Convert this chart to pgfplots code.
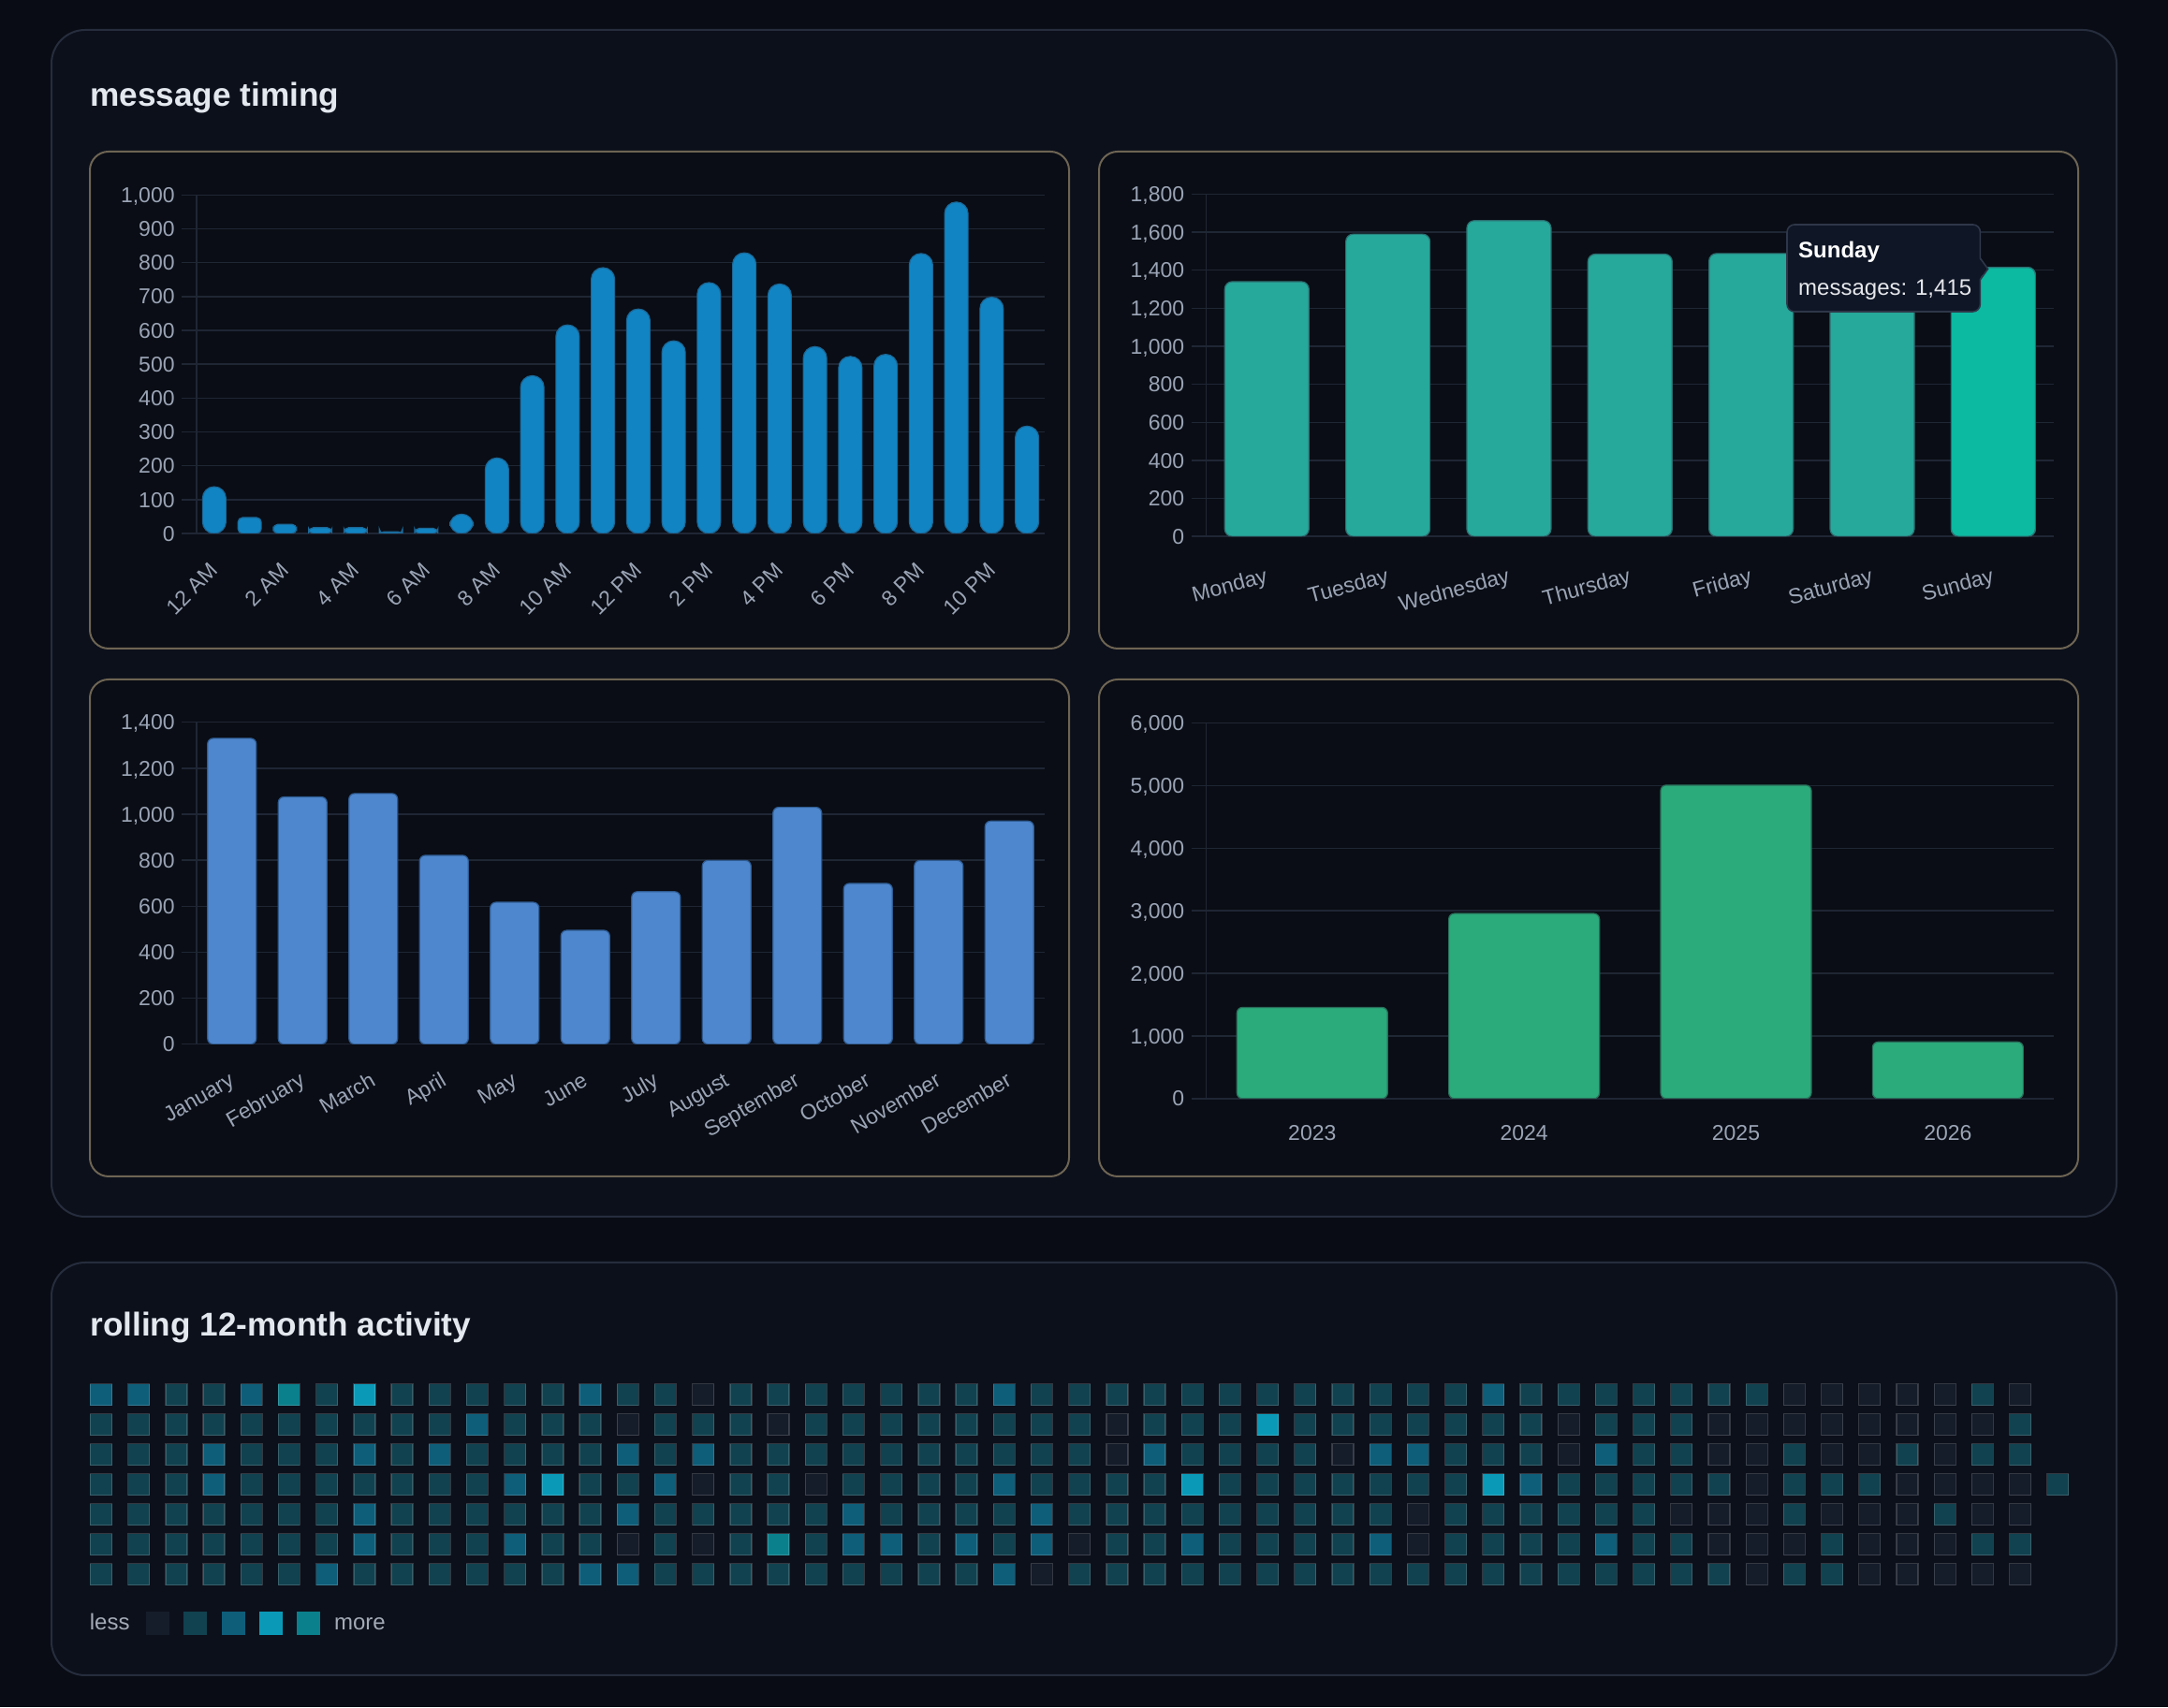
\documentclass[border=0pt]{standalone}
\usepackage{fontspec}
\setmainfont{Liberation Sans}
\usepackage{pgfplots}
\usepackage{pgfplotstable}
\pgfplotsset{compat=1.18}

% dashboard palette
\definecolor{pagebg}{HTML}{090C14}
\definecolor{panelbg}{HTML}{0C101B}
\definecolor{panelbd}{HTML}{262D3D}
\definecolor{cardbg}{HTML}{0A0D15}
\definecolor{cardbd}{HTML}{6D6453}
\definecolor{gridc}{HTML}{1F2634}
\definecolor{tickc}{HTML}{9AA4B5}
\definecolor{titlec}{HTML}{E3E7EE}
\definecolor{hourc}{HTML}{1185C4}
\definecolor{hourb}{HTML}{1C6796}
\definecolor{dayc}{HTML}{26A89A}
\definecolor{dayb}{HTML}{2C6E70}
\definecolor{sunc}{HTML}{0CB9A1}
\definecolor{monc}{HTML}{4F87CE}
\definecolor{monb}{HTML}{2F5C92}
\definecolor{yearc}{HTML}{2BAA7B}
\definecolor{yearb}{HTML}{2A6E5A}
\definecolor{tipbg}{HTML}{0F1626}
\definecolor{tipbd}{HTML}{2E3749}
\definecolor{tipc}{HTML}{E5E7EB}
\definecolor{legc}{HTML}{A4ABB6}
\definecolor{lvA}{HTML}{151C2A}
\definecolor{lvB}{HTML}{11424F}
\definecolor{lvC}{HTML}{0E5E7A}
\definecolor{lvD}{HTML}{0A9AB8}
\definecolor{lvE}{HTML}{0A808C}

\newcommand\tkfont{\fontsize{11.5pt}{13pt}\selectfont}
\newcommand\ttlfont{\fontsize{17.6pt}{21pt}\selectfont\bfseries}
\newcommand\tipfont{\fontsize{12pt}{14pt}\selectfont}

% rounded square used for the activity cells
\pgfdeclareplotmark{cell}{%
  {\pgfsetcornersarced{\pgfpoint{3pt}{3pt}}%
   \pgfpathrectangle{\pgfpoint{-\pgfplotmarksize}{-\pgfplotmarksize}}%
     {\pgfpoint{2\pgfplotmarksize}{2\pgfplotmarksize}}%
   \pgfusepathqfillstroke}}

% messages per hour of day
\pgfplotstableread{
h v
0 138
1 47
2 27
3 17
4 17
5 5
6 15
7 57
8 223
9 466
10 616
11 785
12 663
13 569
14 741
15 829
16 737
17 552
18 523
19 529
20 827
21 979
22 698
23 317
}\hourdata

% messages per weekday
\pgfplotstableread{
d v
0 1340
1 1590
2 1661
3 1485
4 1488
5 1390
6 1415
}\daydata

% messages per month
\pgfplotstableread{
m v
0 1330
1 1075
2 1090
3 821
4 617
5 495
6 663
7 799
8 1030
9 699
10 799
11 970
}\mondata

% messages per year
\pgfplotstableread{
y v
0 1456
1 2956
2 5007
3 904
}\yeardata

% activity level per week (w) and weekday row (d0..d6)
\pgfplotstableread{
w d0 d1 d2 d3 d4 d5 d6
0 2 1 1 1 1 1 1
1 2 1 1 1 1 1 1
2 1 1 1 1 1 1 1
3 1 1 2 2 1 1 1
4 2 1 1 1 1 1 1
5 4 1 1 1 1 1 1
6 1 1 1 1 1 1 2
7 3 1 2 1 2 2 1
8 1 1 1 1 1 1 1
9 1 1 2 1 1 1 1
10 1 2 1 1 1 1 1
11 1 1 1 2 1 2 1
12 1 1 1 3 1 1 1
13 2 1 1 1 1 1 2
14 1 0 2 1 2 0 2
15 1 1 1 2 1 1 1
16 0 1 2 0 1 0 1
17 1 1 1 1 1 1 1
18 1 0 1 1 1 4 1
19 1 1 1 0 1 1 1
20 1 1 1 1 2 2 1
21 1 1 1 1 1 2 1
22 1 1 1 1 1 1 1
23 1 1 1 1 1 2 1
24 2 1 1 2 1 1 2
25 1 1 1 1 2 2 0
26 1 1 1 1 1 0 1
27 1 0 0 1 1 1 1
28 1 1 2 1 1 1 1
29 1 1 1 3 1 2 1
30 1 1 1 1 1 1 1
31 1 3 1 1 1 1 1
32 1 1 1 1 1 1 1
33 1 1 0 1 1 1 1
34 1 1 2 1 1 2 1
35 1 1 2 1 0 0 1
36 1 1 1 1 1 1 1
37 2 1 1 3 1 1 1
38 1 1 1 2 1 1 1
39 1 0 0 1 1 1 1
40 1 1 2 1 1 2 1
41 1 1 1 1 1 1 1
42 1 1 1 1 0 1 1
43 1 0 0 1 0 0 1
44 1 0 0 0 0 0 0
45 0 0 1 1 1 0 1
46 0 0 0 1 0 1 1
47 0 0 0 1 0 0 0
48 0 0 1 0 0 0 0
49 0 0 0 0 1 0 0
50 1 0 1 0 0 1 0
51 0 1 1 0 0 1 0
}\heat

\pgfplotsset{
  dashaxis/.style={
    scale only axis, anchor=south west,
    axis x line*=bottom, axis y line*=left,
    axis line style={-, draw=gridc, line width=0.75pt},
    ymajorgrids, grid style={draw=gridc, line width=0.75pt},
    major tick length=0pt, xtick style={draw=none}, ytick style={draw=none},
    tick label style={font=\tkfont, text=tickc, inner sep=0pt,
      text height=8.2pt, text depth=0pt},
    yticklabel style={anchor=east, xshift=-11.5pt},
    /pgf/number format/assume math mode=true,
    xmin=-0.5, clip mode=individual,
  },
  hourbar/.style={ybar, bar width=12.5pt, bar shift=0pt, fill=hourc,
    draw=hourb, line width=0.6pt},
  heatcells/.style={
    scatter, only marks, scatter src=explicit symbolic,
    mark=cell, mark size=5.75pt,
    scatter/classes={
      0={fill=lvA, draw=white, draw opacity=0.17, line width=0.65pt},
      1={fill=lvB, draw=white, draw opacity=0.17, line width=0.65pt},
      2={fill=lvC, draw=white, draw opacity=0.17, line width=0.65pt},
      3={fill=lvD, draw=white, draw opacity=0.17, line width=0.65pt},
      4={fill=lvE, draw=white, draw opacity=0.17, line width=0.65pt}},
  },
  heatkey/.style={
    scatter, only marks, scatter src=explicit symbolic,
    mark=cell, mark size=6pt,
    scatter/classes={
      0={fill=lvA, draw=lvA, line width=0.1pt},
      1={fill=lvB, draw=lvB, line width=0.1pt},
      2={fill=lvC, draw=lvC, line width=0.1pt},
      3={fill=lvD, draw=lvD, line width=0.1pt},
      4={fill=lvE, draw=lvE, line width=0.1pt}},
  },
}

\begin{document}
\begin{tikzpicture}
\useasboundingbox (0pt,0pt) rectangle (1158pt,912pt);
\fill[pagebg] (0pt,0pt) rectangle (1158pt,912pt);

% panels
\draw[panelbd, fill=panelbg, line width=1pt, rounded corners=18pt]
  (27.5pt,262pt) rectangle (1130.5pt,896pt);
\draw[panelbd, fill=panelbg, line width=1pt, rounded corners=18pt]
  (27.5pt,17pt) rectangle (1130.5pt,237.5pt);

% chart cards
\foreach \cx/\cy in {48/565.5, 587/565.5, 48/283.5, 587/283.5}
  \draw[cardbd, fill=cardbg, line width=1pt, rounded corners=10pt]
    (\cx pt,\cy pt) rectangle ++(523pt,265.5pt);

\node[anchor=base west, inner sep=0pt, text=titlec, font=\ttlfont]
  at (48pt,855pt) {message timing};
\node[anchor=base west, inner sep=0pt, text=titlec, font=\ttlfont]
  at (48pt,198pt) {rolling 12-month activity};

% ---- messages by hour
\begin{axis}[dashaxis, at={(105pt,627pt)}, width=453pt, height=180.85pt,
  xmax=23.5, ymin=0, ymax=1000,
  y coord trafo/.code={\pgfmathparse{#1+80}},
  y coord inv trafo/.code={\pgfmathparse{#1-80}},
  ytick={0,100,...,1000},
  yticklabels={0,100,200,300,400,500,600,700,800,900,{1,000}},
  xtick={0,2,...,22},
  xticklabels={12 AM,2 AM,4 AM,6 AM,8 AM,10 AM,12 PM,2 PM,4 PM,6 PM,8 PM,10 PM},
  xticklabel style={yshift=-17.5pt, rotate=45, anchor=east},
]
\pgfplotsinvokeforeach{0,0.1,0.2,0.3,0.4,0.5,0.6,0.7,0.8,0.9,1}{
  \draw[gridc, line width=0.75pt] (rel axis cs:0,#1) -- ++(-8pt,0pt);}
% full round caps on the taller bars, tighter caps on the short night bars
\addplot[hourbar, rounded corners=6.2pt, restrict x to domain=-0.5:0.5]
  table[x=h, y=v] {\hourdata};
\addplot[hourbar, rounded corners=6.2pt, restrict x to domain=6.5:23.5]
  table[x=h, y=v] {\hourdata};
\addplot[hourbar, rounded corners=2.5pt, restrict x to domain=0.5:6.5]
  table[x=h, y=v] {\hourdata};
\end{axis}

% ---- messages by weekday
\begin{axis}[dashaxis, at={(644.3pt,625.4pt)}, width=452.7pt, height=182.85pt,
  xmax=6.5, ymin=0, ymax=1800,
  y coord trafo/.code={\pgfmathparse{#1+100}},
  y coord inv trafo/.code={\pgfmathparse{#1-100}},
  ytick={0,200,...,1800},
  yticklabels={0,200,400,600,800,{1,000},{1,200},{1,400},{1,600},{1,800}},
  xtick={0,...,6},
  xticklabels={Monday,Tuesday,Wednesday,Thursday,Friday,Saturday,Sunday},
  xticklabel style={yshift=-20.5pt, rotate=15, anchor=east},
]
\pgfplotsinvokeforeach{0,0.11111,0.22222,0.33333,0.44444,0.55556,0.66667,0.77778,0.88889,1}{
  \draw[gridc, line width=0.75pt] (rel axis cs:0,#1) -- ++(-8pt,0pt);}
\addplot[ybar, bar width=45pt, bar shift=0pt, fill=dayc, draw=dayb,
  line width=0.6pt, rounded corners=4pt] table[x=d, y=v] {\daydata};
\addplot[ybar, bar width=45pt, bar shift=0pt, fill=sunc, draw=dayb,
  line width=0.6pt, rounded corners=4pt, restrict x to domain=5.5:6.5]
  table[x=d, y=v] {\daydata};
\end{axis}

% hover box on the Sunday bar
\draw[tipbd, fill=tipbg, line width=0.8pt, rounded corners=4pt]
  (954.5pt,745.5pt) rectangle (1057.7pt,792pt);
\fill[tipbg] (1056.9pt,774pt) -- (1061.8pt,768.3pt) -- (1056.9pt,762.6pt) -- cycle;
\draw[tipbd, line width=0.8pt] (1057.7pt,774pt) -- (1061.8pt,768.3pt) -- (1057.7pt,762.6pt);
\node[anchor=base west, inner sep=0pt, text=white, font=\tipfont\bfseries]
  at (960.4pt,774.3pt) {Sunday};
\node[anchor=base west, inner sep=0pt, text=tipc, font=\tipfont]
  at (960.4pt,754.2pt) {messages: 1,415};

% ---- messages by month
\begin{axis}[dashaxis, at={(105pt,354.15pt)}, width=453pt, height=172pt,
  xmax=11.5, ymin=0, ymax=1400,
  y coord trafo/.code={\pgfmathparse{#1+60}},
  y coord inv trafo/.code={\pgfmathparse{#1-60}},
  ytick={0,200,...,1400},
  yticklabels={0,200,400,600,800,{1,000},{1,200},{1,400}},
  xtick={0,...,11},
  xticklabels={January,February,March,April,May,June,July,August,September,October,November,December},
  xticklabel style={yshift=-18pt, rotate=30, anchor=east},
]
\pgfplotsinvokeforeach{0,0.142857,0.285714,0.428571,0.571429,0.714286,0.857143,1}{
  \draw[gridc, line width=0.75pt] (rel axis cs:0,#1) -- ++(-8pt,0pt);}
\addplot[ybar, bar width=26pt, bar shift=0pt, fill=monc, draw=monb,
  line width=0.6pt, rounded corners=3pt] table[x=m, y=v] {\mondata};
\end{axis}

% ---- messages by year
\begin{axis}[dashaxis, at={(644.3pt,325.1pt)}, width=452.7pt, height=200.65pt,
  xmax=3.5, ymin=0, ymax=6000,
  y coord trafo/.code={\pgfmathparse{#1+200}},
  y coord inv trafo/.code={\pgfmathparse{#1-200}},
  ytick={0,1000,...,6000},
  yticklabels={0,{1,000},{2,000},{3,000},{4,000},{5,000},{6,000}},
  xtick={0,...,3},
  xticklabels={2023,2024,2025,2026},
  xticklabel style={yshift=-18.5pt, anchor=center},
]
\pgfplotsinvokeforeach{0,0.166667,0.333333,0.5,0.666667,0.833333,1}{
  \draw[gridc, line width=0.75pt] (rel axis cs:0,#1) -- ++(-8pt,0pt);}
\addplot[ybar, bar width=80.5pt, bar shift=0pt, fill=yearc, draw=yearb,
  line width=0.6pt, rounded corners=3pt] table[x=y, y=v] {\yeardata};
\end{axis}

% ---- rolling activity grid
\begin{axis}[at={(43.95pt,63pt)}, anchor=south west, scale only axis,
  width=1065.3pt, height=112pt,
  xmin=-0.5, xmax=52.5, ymin=-0.5, ymax=6.5, y dir=reverse,
  hide axis, clip=false]
\addplot[heatcells] table[x=w, y expr=0, meta=d0] {\heat};
\addplot[heatcells] table[x=w, y expr=1, meta=d1] {\heat};
\addplot[heatcells] table[x=w, y expr=2, meta=d2] {\heat};
\addplot[heatcells] table[x=w, y expr=3, meta=d3] {\heat};
\addplot[heatcells] table[x=w, y expr=4, meta=d4] {\heat};
\addplot[heatcells] table[x=w, y expr=5, meta=d5] {\heat};
\addplot[heatcells] table[x=w, y expr=6, meta=d6] {\heat};
\addplot[heatcells] coordinates {(52,3) [1]};
\addplot[heatkey] coordinates {(1.5,7.62) [0] (2.5,7.62) [1] (3.5,7.62) [2] (4.5,7.62) [3] (5.5,7.62) [4]};
\node[anchor=base east, inner sep=0pt, text=legc, font=\tipfont] at (axis cs:0.771,7.866) {less};
\node[anchor=base west, inner sep=0pt, text=legc, font=\tipfont] at (axis cs:6.187,7.866) {more};
\end{axis}
\end{tikzpicture}
\end{document}
